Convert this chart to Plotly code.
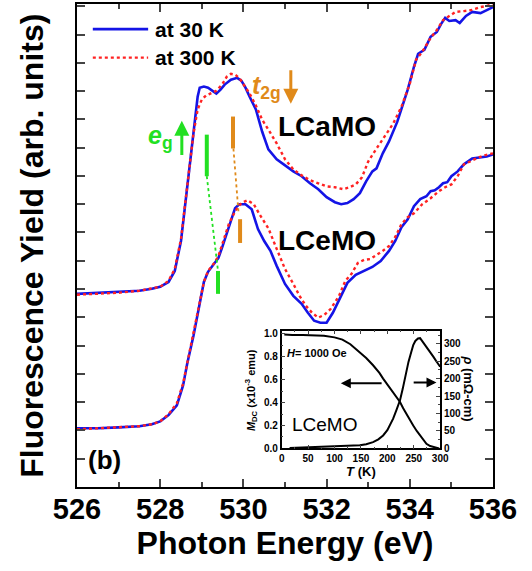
import plotly.graph_objects as go

# ---------------- main panel data (photon energy in eV, fluorescence yield arb. units)
e_lcamo_30 = [526.0, 526.5, 527.0, 527.5, 527.8, 528.0, 528.2, 528.35, 528.5, 528.6, 528.7, 528.8, 528.9,
              528.95, 529.05, 529.15, 529.25, 529.35, 529.45, 529.55, 529.7, 529.85, 529.95, 530.05, 530.15,
              530.3, 530.45, 530.6, 530.8, 531.0, 531.2, 531.4, 531.6, 531.8, 532.0, 532.2, 532.35, 532.5,
              532.65, 532.8, 532.95, 533.1, 533.2, 533.35, 533.5, 533.7, 533.85, 533.95, 534.1, 534.2, 534.35,
              534.5, 534.65, 534.75, 534.85, 534.95, 535.1, 535.2, 535.35, 535.5, 535.7, 535.85, 536.0]
fy_lcamo_30 = [6.83, 6.87, 6.90, 6.94, 7.01, 7.08, 7.25, 7.64, 8.70, 9.93, 11.16, 12.57, 13.80,
               14.12, 14.16, 14.12, 14.01, 13.91, 14.05, 14.23, 14.40, 14.47, 14.37, 14.12, 13.80,
               13.35, 12.57, 11.94, 11.59, 11.37, 11.16, 10.99, 10.74, 10.53, 10.25, 10.07, 10.00, 10.04,
               10.18, 10.39, 10.81, 11.16, 11.27, 11.80, 12.22, 12.92, 13.63, 14.05, 14.86, 15.32, 15.46,
               15.92, 16.09, 16.37, 16.59, 16.48, 16.51, 16.41, 16.66, 16.80, 16.76, 16.87, 16.97]

e_lcamo_300 = [526.0, 526.5, 527.0, 527.5, 527.8, 528.0, 528.2, 528.35, 528.5, 528.6, 528.7, 528.8, 528.9,
               529.0, 529.1, 529.2, 529.35, 529.5, 529.6, 529.7, 529.8, 529.9, 530.0, 530.15, 530.3, 530.45,
               530.6, 530.8, 531.0, 531.2, 531.4, 531.6, 531.8, 532.0, 532.2, 532.4, 532.55, 532.7, 532.85,
               533.0, 533.2, 533.4, 533.6, 533.8, 534.0, 534.15, 534.3, 534.5, 534.65, 534.8, 534.95, 535.1,
               535.3, 535.5, 535.7, 535.85, 536.0]
fy_lcamo_300 = [6.80, 6.83, 6.87, 6.94, 7.01, 7.08, 7.29, 7.71, 8.77, 10.00, 11.23, 12.50, 13.35,
                13.70, 13.84, 13.91, 14.01, 14.26, 14.51, 14.61, 14.58, 14.47, 14.26, 13.91, 13.49, 12.99,
                12.64, 12.15, 11.59, 11.23, 11.02, 10.85, 10.74, 10.63, 10.60, 10.53, 10.60, 10.70, 10.95,
                11.51, 11.97, 12.39, 12.85, 13.45, 14.26, 15.11, 15.39, 15.88, 16.16, 16.51, 16.66, 16.80,
                16.83, 16.87, 16.97, 17.01, 17.08]

e_lcemo_30 = [526.0, 526.5, 527.0, 527.5, 527.8, 528.0, 528.2, 528.4, 528.55, 528.65, 528.8, 528.9, 529.0,
              529.05, 529.15, 529.3, 529.4, 529.5, 529.65, 529.8, 529.9, 530.05, 530.2, 530.35, 530.5, 530.65,
              530.8, 531.0, 531.2, 531.4, 531.55, 531.7, 531.85, 532.0, 532.15, 532.3, 532.5, 532.7, 532.9,
              533.1, 533.3, 533.5, 533.65, 533.8, 533.95, 534.1, 534.25, 534.4, 534.5, 534.6, 534.7, 534.8,
              534.9, 535.0, 535.15, 535.3, 535.5, 535.7, 535.85, 536.0]
fy_lcemo_30 = [2.08, 2.08, 2.11, 2.15, 2.22, 2.32, 2.54, 2.89, 3.59, 4.37, 5.35, 6.13, 6.94,
               7.25, 7.61, 7.89, 8.10, 8.52, 9.15, 9.86, 10.00, 10.00, 9.82, 9.12, 8.70, 8.35,
               7.82, 7.18, 6.76, 6.48, 6.16, 5.88, 5.81, 5.81, 6.16, 6.59, 7.22, 7.50, 7.64,
               7.78, 7.99, 8.35, 8.70, 9.19, 9.47, 9.93, 10.18, 10.28, 10.46, 10.49, 10.60, 10.74,
               10.78, 10.99, 11.16, 11.41, 11.62, 11.66, 11.69, 11.76]

e_lcemo_300 = [526.0, 526.5, 527.0, 527.5, 527.8, 528.0, 528.2, 528.4, 528.55, 528.65, 528.8, 528.9, 529.0,
               529.05, 529.15, 529.3, 529.4, 529.5, 529.65, 529.8, 529.95, 530.1, 530.25, 530.4, 530.6, 530.8,
               531.0, 531.2, 531.35, 531.5, 531.65, 531.8, 531.95, 532.1, 532.3, 532.45, 532.6, 532.75, 532.9,
               533.05, 533.2, 533.35, 533.5, 533.65, 533.8, 533.95, 534.1, 534.3, 534.5, 534.7, 534.85, 535.0,
               535.15, 535.3, 535.45, 535.6, 535.8, 536.0]
fy_lcemo_300 = [2.04, 2.08, 2.11, 2.15, 2.22, 2.32, 2.57, 2.96, 3.66, 4.40, 5.42, 6.16, 6.94,
                7.25, 7.64, 7.92, 8.17, 8.63, 9.30, 9.75, 10.04, 10.14, 10.00, 9.61, 9.15, 8.42,
                7.71, 7.18, 6.76, 6.41, 6.16, 5.99, 6.09, 6.30, 6.76, 7.29, 7.54, 7.92, 8.03,
                8.06, 8.20, 8.35, 8.52, 8.84, 9.30, 9.54, 9.68, 10.00, 10.21, 10.46, 10.60, 10.70,
                10.99, 11.41, 11.51, 11.62, 11.73, 11.80]

# ---------------- inset data
t_mdc = [5, 20, 40, 60, 80, 100, 115, 130, 148, 160, 173, 185, 192, 200, 211, 218, 224, 230, 236, 243,
         249, 256, 262, 268, 274, 281, 287, 293, 298]
m_dc = [0.995, 0.99, 0.99, 0.99, 0.985, 0.97, 0.95, 0.91, 0.843, 0.79, 0.726, 0.66, 0.61, 0.56, 0.49,
        0.44, 0.405, 0.35, 0.30, 0.245, 0.20, 0.15, 0.11, 0.07, 0.04, 0.02, 0.012, 0.005, 0.0]
t_rho = [15, 30, 50, 75, 100, 125, 148, 160, 173, 183, 192, 200, 205, 211, 217, 224, 229, 233, 237, 240,
         245, 249, 253, 258, 262, 265, 270, 274, 280, 287, 293, 300]
rho = [1, 2, 3, 4, 5, 6.5, 8.6, 12, 18, 26, 37, 52, 66, 85, 109, 138, 170, 200, 230, 248,
       275, 296, 308, 315, 316, 310, 300, 291, 278, 263, 249, 234]

# ---------------- markers: eg / t2g guide bars (x, y0, y1) and guide lines
eg_bars = [(529.12, 10.99, 12.46), (529.39, 6.83, 7.64)]
t2g_bars = [(529.75, 11.97, 13.10), (529.92, 8.63, 9.47)]
eg_guide = ([529.12, 529.39], [10.99, 7.64])
t2g_guide = ([529.76, 529.88], [11.97, 9.75])

BLUE = "#1414E6"
RED = "#FF2222"
GREEN = "#22E022"
ORANGE = "#E08A1A"
FONT = "Liberation Sans, Arial, sans-serif"

fig = go.Figure()

fig.add_trace(go.Scatter(x=e_lcamo_30, y=fy_lcamo_30, mode="lines", line=dict(color=BLUE, width=2.6),
                         showlegend=False, xaxis="x", yaxis="y"))
fig.add_trace(go.Scatter(x=e_lcamo_300, y=fy_lcamo_300, mode="lines",
                         line=dict(color=RED, width=2.4, dash="dot"), showlegend=False))
fig.add_trace(go.Scatter(x=e_lcemo_30, y=fy_lcemo_30, mode="lines", line=dict(color=BLUE, width=2.6),
                         showlegend=False))
fig.add_trace(go.Scatter(x=e_lcemo_300, y=fy_lcemo_300, mode="lines",
                         line=dict(color=RED, width=2.4, dash="dot"), showlegend=False))

# guide lines
fig.add_trace(go.Scatter(x=eg_guide[0], y=eg_guide[1], mode="lines",
                         line=dict(color=GREEN, width=1.8, dash="dot"), showlegend=False))
fig.add_trace(go.Scatter(x=t2g_guide[0], y=t2g_guide[1], mode="lines",
                         line=dict(color=ORANGE, width=1.8, dash="dot"), showlegend=False))
for (xb, y0, y1) in eg_bars:
    fig.add_trace(go.Scatter(x=[xb, xb], y=[y0, y1], mode="lines", line=dict(color=GREEN, width=4),
                             showlegend=False))
for (xb, y0, y1) in t2g_bars:
    fig.add_trace(go.Scatter(x=[xb, xb], y=[y0, y1], mode="lines", line=dict(color=ORANGE, width=4),
                             showlegend=False))

# inset traces
fig.add_trace(go.Scatter(x=t_mdc, y=m_dc, mode="lines", line=dict(color="black", width=2),
                         xaxis="x2", yaxis="y2", showlegend=False))
fig.add_trace(go.Scatter(x=t_rho, y=rho, mode="lines", line=dict(color="black", width=2),
                         xaxis="x2", yaxis="y3", showlegend=False))

bold = dict(family=FONT, color="black", weight="bold")

annotations = [
    # y title
    dict(text="Fluorescence Yield (arb. units)", xref="paper", yref="paper", x=-0.11, y=0.5,
         textangle=-90, showarrow=False, font=dict(bold, size=32), xanchor="center", yanchor="middle"),
    # legend texts
    dict(text="at 30 K", xref="paper", yref="paper", x=0.183, y=0.948, xanchor="left", yanchor="middle",
         showarrow=False, font=dict(bold, size=21)),
    dict(text="at 300 K", xref="paper", yref="paper", x=0.183, y=0.889, xanchor="left", yanchor="middle",
         showarrow=False, font=dict(bold, size=21)),
    # sample labels
    dict(text="LCaMO", x=532.01, y=12.75, showarrow=False, font=dict(bold, size=28)),
    dict(text="LCeMO", x=532.01, y=8.70, showarrow=False, font=dict(bold, size=28)),
    dict(text="(b)", x=526.67, y=0.95, showarrow=False, font=dict(bold, size=26)),
    # eg / t2g labels
    dict(text="<i>e</i><sub>g</sub>", x=528.0, y=12.39, showarrow=False,
         font=dict(family=FONT, size=25, color=GREEN, weight="bold")),
    dict(text="<i>t</i><sub>2g</sub>", x=530.55, y=14.15, showarrow=False,
         font=dict(family=FONT, size=25, color=ORANGE, weight="bold")),
    # arrows
    dict(text="", x=528.52, y=12.95, ax=528.52, ay=11.69, axref="x", ayref="y", showarrow=True,
         arrowhead=2, arrowsize=1, arrowwidth=3, arrowcolor=GREEN),
    dict(text="", x=531.14, y=13.55, ax=531.14, ay=14.79, axref="x", ayref="y", showarrow=True,
         arrowhead=2, arrowsize=1, arrowwidth=3, arrowcolor=ORANGE),
    # inset texts
    dict(text="<i>H</i>= 1000 Oe", xref="x2", yref="y2", x=6, y=0.83, xanchor="left", showarrow=False,
         font=dict(bold, size=11)),
    dict(text="LCeMO", xref="x2", yref="y2", x=82, y=0.21, showarrow=False,
         font=dict(family=FONT, size=19, color="black")),
    dict(text="<i>M</i><sub>DC</sub> (x10<sup>-3</sup> emu)", xref="paper", yref="paper", x=0.42, y=0.2,
         xanchor="center", yanchor="middle",
         textangle=-90, showarrow=False, font=dict(bold, size=11)),
    dict(text="<i>ρ</i> (mΩ-cm)", xref="paper", yref="paper", x=0.94, y=0.204,
         xanchor="center", yanchor="middle",
         textangle=90, showarrow=False, font=dict(bold, size=13)),
    dict(text="", xref="x2", yref="y2", x=112, y=0.57, ax=192, ay=0.57, axref="x2", ayref="y2",
         showarrow=True, arrowhead=2, arrowsize=1, arrowwidth=2, arrowcolor="black"),
    dict(text="", xref="x2", yref="y3", x=293, y=189, ax=247, ay=189, axref="x2", ayref="y3",
         showarrow=True, arrowhead=2, arrowsize=1, arrowwidth=2, arrowcolor="black"),
]

shapes = [
    dict(type="line", xref="paper", yref="paper", x0=0.038, x1=0.171, y0=0.948, y1=0.948,
         line=dict(color=BLUE, width=2.6)),
    dict(type="line", xref="paper", yref="paper", x0=0.038, x1=0.171, y0=0.889, y1=0.889,
         line=dict(color=RED, width=2.4, dash="dot")),
]

fig.update_layout(
    width=532, height=571,
    margin=dict(l=77, r=39, t=2, b=84),
    paper_bgcolor="white", plot_bgcolor="white",
    showlegend=False,
    annotations=annotations,
    shapes=shapes,
    xaxis=dict(range=[526, 536], tick0=526, dtick=2, ticks="inside", ticklen=8, tickwidth=2,
               minor=dict(dtick=1, ticks="inside", ticklen=5, tickwidth=2),
               showline=True, linewidth=2, linecolor="black", mirror="ticks", showgrid=False,
               zeroline=False, tickfont=dict(bold, size=29), ticklabelstandoff=-5,
               title=dict(text="Photon Energy (eV)", font=dict(bold, size=32), standoff=6),
               domain=[0, 1]),
    yaxis=dict(range=[0, 17.08], dtick=1, ticks="inside", ticklen=8, tickwidth=2, showticklabels=False,
               showline=True, linewidth=2, linecolor="black", mirror="ticks", showgrid=False,
               zeroline=False, domain=[0, 1]),
    xaxis2=dict(domain=[0.492, 0.873], anchor="y2", range=[0, 300], dtick=50, ticks="inside",
                ticklen=4, tickwidth=1, minor=dict(dtick=25, ticks="inside", ticklen=2),
                showline=True, linewidth=1.5, linecolor="black", mirror="ticks", showgrid=False,
                zeroline=False, tickfont=dict(bold, size=10),
                title=dict(text="<i>T</i> (K)", font=dict(bold, size=13), standoff=0)),
    yaxis2=dict(domain=[0.080, 0.324], anchor="x2", range=[0, 1.03], dtick=0.2, tickformat=".1f",
                ticks="inside", ticklen=4, tickwidth=1, minor=dict(dtick=0.1, ticks="inside", ticklen=2),
                showline=True, linewidth=1.5, linecolor="black", showgrid=False, zeroline=False,
                tickfont=dict(bold, size=10)),
    yaxis3=dict(overlaying="y2", side="right", anchor="x2", range=[0, 338], dtick=50, ticks="inside",
                ticklen=4, tickwidth=1, minor=dict(dtick=25, ticks="inside", ticklen=2),
                showline=True, linewidth=1.5, linecolor="black", showgrid=False, zeroline=False,
                tickfont=dict(bold, size=10)),
)

fig.write_html("out.html", config={"displayModeBar": False},
               post_script="document.body.style.margin='0';document.body.style.padding='0';"
                           "document.documentElement.style.overflow='hidden';")
